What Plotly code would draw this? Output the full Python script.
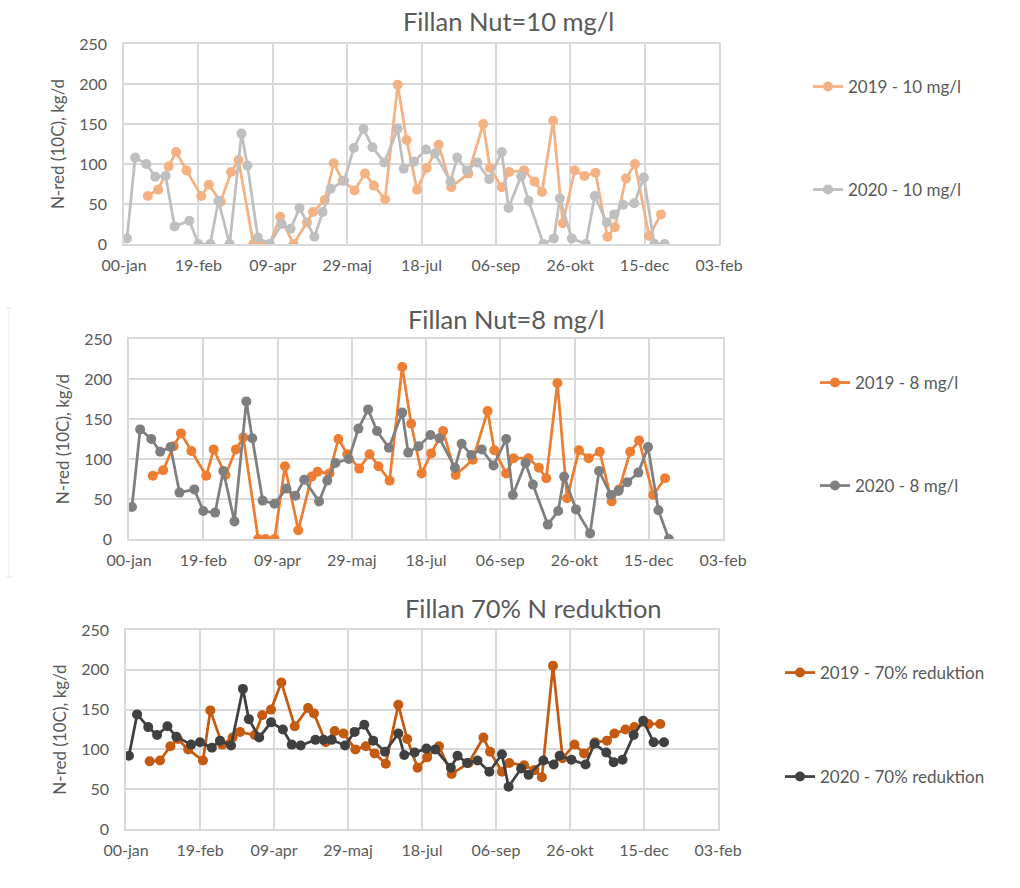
import plotly.graph_objects as go

# ---------------- data ----------------
tick_days = [0, 50, 100, 150, 200, 250, 300, 350, 400]
tick_labels = ["00-jan", "19-feb", "09-apr", "29-maj", "18-jul", "06-sep", "26-okt", "15-dec", "03-feb"]
y_ticks = [0, 50, 100, 150, 200, 250]

days_2019 = [16, 23, 30, 35, 42, 52, 57, 65, 72, 77, 87, 92, 98, 105, 114, 123, 127, 135, 141, 147,
             155, 162, 168, 175.5, 184, 190, 197, 203.5, 211.5, 220, 231.5, 241.5, 246, 254, 259,
             269, 276, 281, 288.5, 295, 303, 309.5, 317, 325, 330, 337.5, 343.5, 353, 361]
days_2020 = [2, 7.5, 15, 21, 28, 34, 44, 50, 58, 63.5, 71, 79, 83, 90, 98, 106, 112, 118, 128, 133.5,
             139, 148, 154.5, 161, 167, 175, 184, 188, 195, 203, 209, 219.5, 224, 230.5, 237.5, 245.5,
             254, 258.5, 267, 272, 282, 289, 293, 301, 310.5, 316.5, 324.5, 329.5, 335.5, 343, 349.5,
             356.5, 363.5]

nut10_2019 = [60, 68, 97, 115, 92, 60, 74, 53, 90, 105, 0, 0, 0, 34, 0, 27, 40, 55, 101, 79,
              67, 88, 73, 56, 199, 130, 68, 95, 124, 71, 88, 150, 95, 71, 90,
              92, 78, 65, 154, 26, 92, 85, 89, 9, 21, 82, 100, 10, 37]
nut10_2020 = [7, 108, 100, 84, 85, 22, 29, 0, 0, 54, 0, 138, 98, 8, 0, 25, 19, 45, 9, 40,
              69, 79, 120, 144, 121, 102, 144, 94, 103, 118, 113, 78, 108, 92, 102, 81,
              115, 45, 85, 54, 0, 7, 57, 7, 0, 60, 27, 37, 49, 51, 83, 0, 0]

nut8_2019 = [79, 86, 116, 132, 110, 79, 112, 80, 112, 127, 0, 0, 0, 91, 11, 78, 84, 82, 125, 106,
             88, 106, 91, 73, 215, 144, 82, 107, 135, 80, 99, 160, 111, 82, 101,
             101, 89, 76, 195, 51, 111, 101, 109, 47, 62, 109, 123, 55, 76]
nut8_2020 = [40, 137, 125, 109, 115, 58, 62, 35, 33, 85, 22, 172, 126, 48, 44, 63, 54, 74, 47, 73,
             95, 100, 138, 162, 135, 114, 158, 108, 116, 130, 126, 89, 119, 105, 112, 92,
             125, 55, 95, 68, 18, 35, 78, 37, 7, 85, 55, 60, 71, 83, 115, 36, 0]

red70_2019 = [85, 86, 104, 113, 100, 86, 149, 106, 115, 122, 118, 143, 150, 184, 129, 152, 145, 109, 123, 120,
              100, 104, 95, 82, 156, 113, 77, 90, 104, 69, 83, 115, 97, 72, 83,
              80, 74, 65, 205, 89, 106, 95, 109, 111, 120, 125, 128, 132, 132]
red70_2020 = [92, 144, 128, 118, 129, 116, 106, 109, 102, 111, 105, 176, 138, 115, 134, 125, 106, 105, 112, 112,
              112, 105, 122, 131, 111, 97, 120, 93, 96, 101, 100, 77, 92, 83, 86, 72,
              94, 53, 76, 68, 86, 81, 92, 87, 81, 107, 96, 84, 87, 118, 136, 109, 109]

titles = ["Fillan Nut=10 mg/l", "Fillan Nut=8 mg/l", "Fillan 70% N reduktion"]
y_title = "N-red (10C), kg/d"

series = [
    ("2019 - 10 mg/l", days_2019, nut10_2019, "#F4B183", 1),
    ("2020 - 10 mg/l", days_2020, nut10_2020, "#BFBFBF", 1),
    ("2019 - 8 mg/l", days_2019, nut8_2019, "#ED7D31", 2),
    ("2020 - 8 mg/l", days_2020, nut8_2020, "#7F7F7F", 2),
    ("2019 - 70% reduktion", days_2019, red70_2019, "#C55A11", 3),
    ("2020 - 70% reduktion", days_2020, red70_2020, "#404040", 3),
]

# ---------------- layout geometry (pixels) ----------------
W, H = 1020, 888
panels = [  # x0, x1, ytop, ybottom
    (124, 719, 44, 244),
    (129, 723, 339, 539),
    (126, 718, 630, 829),
]
title_pos = [(508, 21), (506, 319), (533, 608)]
legend_pos = [  # (text start x, y) for each entry
    (848, 87), (848, 190),
    (855, 383), (855, 486),
    (820, 673), (820, 777),
]

FONT = "Lato, 'Open Sans', sans-serif"
TXT = "#595959"
GRID = "#D9D9D9"

fig = go.Figure()

for i, (name, xs, ys, col, p) in enumerate(series):
    sfx = "" if p == 1 else str(p)
    leg = "legend" if i == 0 else f"legend{i + 1}"
    fig.add_trace(go.Scatter(
        x=xs, y=ys, name=name, mode="lines+markers",
        line=dict(color=col, width=2.75),
        marker=dict(color=col, size=10),
        xaxis="x" + sfx, yaxis="y" + sfx, legend=leg, showlegend=True,
        hovertemplate="%{y}<extra>" + name + "</extra>",
    ))

layout = dict(
    width=W, height=H, margin=dict(l=0, r=0, t=0, b=0, autoexpand=False),
    paper_bgcolor="white", plot_bgcolor="white", showlegend=True,
    font=dict(family=FONT, color=TXT, size=15),
    annotations=[], shapes=[],
)

for k, (x0, x1, yt, yb) in enumerate(panels):
    sfx = "" if k == 0 else str(k + 1)
    layout["xaxis" + sfx] = dict(
        domain=[x0 / W, x1 / W], anchor="y" + sfx, range=[0, 400],
        tickmode="array", tickvals=tick_days, ticktext=tick_labels,
        showgrid=True, gridcolor=GRID, gridwidth=1.5, zeroline=False,
        showline=True, linecolor=GRID, linewidth=1.5, mirror=True,
        ticks="", ticklabelstandoff=6, tickfont=dict(size=16, color=TXT),
        automargin=False,
    )
    layout["yaxis" + sfx] = dict(
        domain=[1 - yb / H, 1 - yt / H], anchor="x" + sfx, range=[0, 250],
        tickmode="array", tickvals=y_ticks,
        showgrid=True, gridcolor=GRID, gridwidth=1.5, zeroline=False,
        showline=True, linecolor=GRID, linewidth=1.5, mirror=True,
        ticks="", ticklabelstandoff=12, tickfont=dict(size=16, color=TXT),
        title=dict(text=y_title, font=dict(size=17, color=TXT), standoff=10),
        automargin=False,
    )
    tx, ty = title_pos[k]
    layout["annotations"].append(dict(
        text=titles[k], x=tx / W, y=1 - ty / H, xref="paper", yref="paper",
        xanchor="center", yanchor="middle", showarrow=False,
        font=dict(size=25.5, color=TXT, family=FONT),
    ))

for i, (lx, ly) in enumerate(legend_pos):
    key = "legend" if i == 0 else f"legend{i + 1}"
    layout[key] = dict(
        x=(lx - 40) / W, y=1 - ly / H, xanchor="left", yanchor="middle",
        xref="paper", yref="paper", bgcolor="rgba(0,0,0,0)",
        font=dict(size=17, color=TXT, family=FONT),
        itemclick=False, itemdoubleclick=False, visible=True,
    )

# faint chart-area border fragment at left of middle chart
layout["shapes"] = [
    dict(type="line", xref="paper", yref="paper", x0=9 / W, x1=9 / W, y0=1 - 308 / H, y1=1 - 577 / H,
         line=dict(color="#EFEFEF", width=1)),
    dict(type="line", xref="paper", yref="paper", x0=6 / W, x1=12 / W, y0=1 - 308 / H, y1=1 - 308 / H,
         line=dict(color="#E4E4E4", width=1)),
    dict(type="line", xref="paper", yref="paper", x0=6 / W, x1=12 / W, y0=1 - 577 / H, y1=1 - 577 / H,
         line=dict(color="#E4E4E4", width=1)),
]

fig.update_layout(**layout)
fig.write_html("out.html")
